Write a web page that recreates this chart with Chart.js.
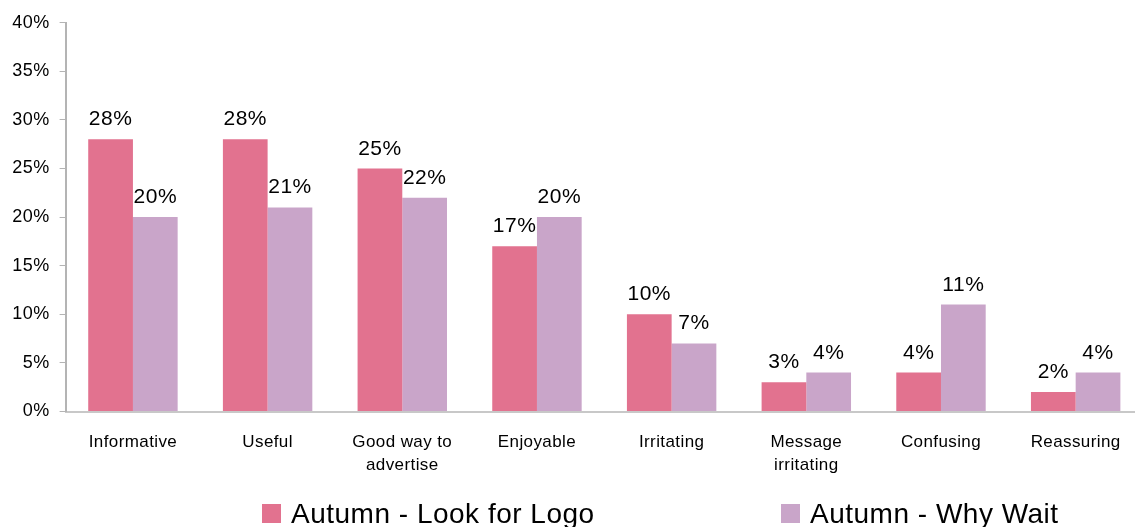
<!DOCTYPE html>
<html>
<head>
<meta charset="utf-8">
<style>
  html, body { margin: 0; padding: 0; background: #ffffff; overflow: hidden; }
  #wrap { width: 1135px; height: 527px; overflow: hidden; }
  #chart { display: block; }
</style>
<script src="https://cdn.jsdelivr.net/npm/chart.js@4/dist/chart.umd.min.js"></script>
</head>
<body>
<div id="wrap"><canvas id="chart" width="1143" height="527"></canvas></div>
<script>
// Survey responses: share of viewers choosing each description
const categories = [
  'Informative',
  'Useful',
  ['Good way to', 'advertise'],
  'Enjoyable',
  'Irritating',
  ['Message', 'irritating'],
  'Confusing',
  'Reassuring'
];
const lookForLogo = [28, 28, 25, 17, 10, 3, 4, 2];
const whyWait = [20, 21, 22, 20, 7, 4, 11, 4];
const seriesNames = ['Autumn - Look for Logo', 'Autumn - Why Wait'];
const seriesColors = ['#e2728f', '#c9a5c9'];
const yTickValues = [0, 5, 10, 15, 20, 25, 30, 35, 40];

const FONT = '"Liberation Sans", Arial, sans-serif';

// Slight tracking for all axis text
const trackingPlugin = {
  id: 'tracking',
  beforeDraw(chart) {
    chart.ctx.letterSpacing = '0.4px';
  }
};

// Percentage labels above each bar
const valueLabelPlugin = {
  id: 'valueLabels',
  afterDatasetsDraw(chart) {
    const ctx = chart.ctx;
    ctx.save();
    ctx.font = '21px ' + FONT;
    ctx.letterSpacing = '0.5px';
    ctx.fillStyle = '#000000';
    ctx.textAlign = 'center';
    ctx.textBaseline = 'alphabetic';
    chart.data.datasets.forEach((ds, i) => {
      const meta = chart.getDatasetMeta(i);
      meta.data.forEach((bar, j) => {
        ctx.fillText(ds.data[j] + '%', bar.x, bar.y - 14);
      });
    });
    ctx.restore();
  }
};

// Legend row along the bottom edge
const bottomLegendPlugin = {
  id: 'bottomLegend',
  afterDraw(chart, args, opts) {
    const ctx = chart.ctx;
    ctx.save();
    ctx.font = opts.fontSize + 'px ' + FONT;
    ctx.letterSpacing = '0.5px';
    ctx.textAlign = 'left';
    ctx.textBaseline = 'alphabetic';
    chart.data.datasets.forEach((ds, i) => {
      const x = opts.itemX[i];
      ctx.fillStyle = ds.backgroundColor;
      ctx.fillRect(x, opts.boxTop, opts.boxSize, opts.boxSize);
      ctx.fillStyle = '#000000';
      ctx.fillText(ds.label, x + opts.boxSize + opts.gap, opts.baseline);
    });
    ctx.restore();
  }
};

new Chart(document.getElementById('chart'), {
  type: 'bar',
  data: {
    labels: categories,
    datasets: [
      {
        label: seriesNames[0],
        data: lookForLogo,
        backgroundColor: seriesColors[0],
        categoryPercentage: 0.664,
        barPercentage: 1.0
      },
      {
        label: seriesNames[1],
        data: whyWait,
        backgroundColor: seriesColors[1],
        categoryPercentage: 0.664,
        barPercentage: 1.0
      }
    ]
  },
  options: {
    responsive: false,
    devicePixelRatio: 1,
    animation: false,
    layout: { padding: { top: 22.7, left: 0, right: 0, bottom: 25.5 } },
    plugins: {
      legend: { display: false },
      tooltip: { enabled: false },
      bottomLegend: {
        itemX: [262, 781],
        boxTop: 504,
        boxSize: 19,
        gap: 10,
        baseline: 522.5,
        fontSize: 28
      }
    },
    scales: {
      x: {
        grid: { display: false, drawTicks: false },
        border: { color: '#c8c8c8', width: 2 },
        ticks: {
          color: '#000000',
          font: { family: FONT, size: 17, lineHeight: 1.35 },
          padding: 19,
          maxRotation: 0,
          minRotation: 0,
          autoSkip: false
        },
        afterFit(scale) { scale.height = 90; }
      },
      y: {
        min: 0,
        max: 40,
        afterBuildTicks(scale) {
          scale.ticks = yTickValues.map(v => ({ value: v }));
        },
        ticks: {
          color: '#000000',
          font: { family: FONT, size: 18 },
          padding: 10,
          callback: v => v + '%'
        },
        grid: { drawOnChartArea: false, drawTicks: true, tickLength: 6, color: '#b4b4b4' },
        border: { color: '#b4b4b4', width: 2 },
        afterFit(scale) { scale.width = 65.6; }
      }
    }
  },
  plugins: [trackingPlugin, valueLabelPlugin, bottomLegendPlugin]
});
</script>
</body>
</html>
